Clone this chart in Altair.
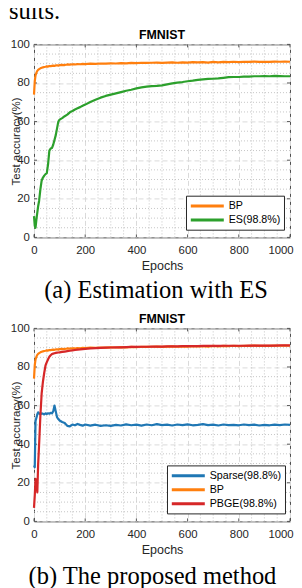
import altair as alt
import pandas as pd

# ---------------- data ----------------
epochs = [0, 3, 6, 10, 13, 16, 20, 25, 30, 35, 40, 45, 50, 55, 60, 65, 70, 75, 80, 85, 90, 95, 100,
          110, 120, 130, 140, 150, 160, 170, 180, 190, 200,
          220, 240, 260, 280, 300, 320, 340, 360, 380, 400, 420, 440, 460, 480, 500,
          520, 540, 560, 580, 600, 620, 640, 660, 680, 700, 720, 740, 760, 780, 800,
          820, 840, 860, 880, 900, 920, 940, 960, 980, 1000]

bp = [74.0, 81.0, 84.0, 85.5, 86.3, 86.8, 87.2, 87.6, 87.9, 88.1, 88.3, 88.4, 88.6, 88.5, 88.8, 88.7,
      88.9, 89.0, 88.9, 89.1, 89.2, 89.0, 89.3,
      89.4, 89.3, 89.6, 89.5, 89.7, 89.6, 89.8, 89.7, 89.9, 89.8,
      90.0, 89.9, 90.1, 90.0, 90.2, 90.1, 90.3, 90.2, 90.4, 90.3, 90.5, 90.4, 90.5, 90.6, 90.4,
      90.6, 90.7, 90.5, 90.7, 90.6, 90.8, 90.7, 90.8, 90.6, 90.9, 90.7, 90.9, 90.8, 91.0, 90.8,
      91.0, 90.9, 91.1, 90.9, 91.0, 90.9, 91.1, 91.0, 91.1, 91.0]

es = [11, 6, 5, 10, 13, 16, 19, 25, 29.5, 31, 32, 32.8, 33.3, 38, 45, 46, 46.3, 48, 50.5, 53, 56.5, 60, 61,
      61.8, 62.8, 63.6, 64.8, 65.5, 66.3, 66.9, 67.5, 68.2, 68.8,
      70.2, 71.3, 72.4, 73.3, 74.0, 74.6, 75.3, 76.0, 76.5, 77.2, 77.7, 78.1, 78.4, 78.5, 78.8,
      79.3, 79.8, 80.2, 80.5, 80.9, 81.2, 81.6, 81.9, 82.1, 82.2, 82.4, 82.7, 83.0, 83.1, 83.1,
      83.3, 83.3, 83.5, 83.5, 83.6, 83.5, 83.7, 83.6, 83.5, 83.5]

sparse = [29, 28, 52, 54, 55.5, 56.5, 56, 55.5, 56, 55.8, 55.5, 56, 55.7, 56, 55.8, 56.2, 56, 57, 60, 57,
          54, 53, 52.3,
          51.5, 51, 49.5, 49.2, 50.2, 49.8, 50.5, 50.0, 49.6, 50.2,
          49.6, 50.1, 49.5, 49.8, 49.5, 50.0, 49.7, 50.3, 49.8, 50.1, 49.6, 50.2, 49.8, 50.4, 49.9,
          50.1, 49.7, 50.2, 49.9, 50.3, 49.8, 50.0, 50.4, 49.9, 50.1, 49.7, 50.2, 49.9, 50.0, 49.8,
          50.2, 49.9, 50.1, 49.7, 50.0, 49.8, 50.1, 49.9, 50.2, 50.0]

pbge = [7, 13.5, 22, 20, 15, 29, 40, 55, 66.5, 72.5, 77, 80.8, 82.5, 84, 85.3, 86.1, 86.7, 86.9, 87.1,
        87.3, 87.4, 87.5, 87.6,
        87.8, 88.0, 88.2, 88.4, 88.6, 88.8, 89.0, 89.1, 89.3, 89.4,
        89.6, 89.8, 89.9, 90.0, 90.1, 90.2, 90.2, 90.3, 90.4, 90.4, 90.5, 90.5, 90.6, 90.6, 90.6,
        90.7, 90.7, 90.7, 90.8, 90.8, 90.8, 90.8, 90.9, 90.9, 90.9, 90.9, 91.0, 91.0, 91.0, 91.0,
        91.0, 91.1, 91.1, 91.1, 91.1, 91.1, 91.1, 91.2, 91.2, 91.2]

x_major = [0, 200, 400, 600, 800, 1000]
x_minor = [50, 100, 150, 250, 300, 350, 450, 500, 550, 650, 700, 750, 850, 900, 950]
y_major = [0, 20, 40, 60, 80, 100]
y_minor = [5, 10, 15, 25, 30, 35, 45, 50, 55, 65, 70, 75, 85, 90, 95]

header_text = ["sults."]
captions = ["(a) Estimation with ES", "(b) The proposed method"]
panel_title = ["FMNIST"]

names1 = ["BP", "ES(98.8%)"]
colors1 = ["#FF7F0E", "#2CA02C"]
names2 = ["Sparse(98.8%)", "BP", "PBGE(98.8%)"]
colors2 = ["#1F77B4", "#FF7F0E", "#D62728"]

# ---------------- styling ----------------
W, H = 256, 193
SANS = "Liberation Sans"
SERIF = "Liberation Serif"
TXT = "#262626"


def x_enc():
    return alt.X("epoch:Q", title="Epochs",
                 scale=alt.Scale(domain=[0, 1000], nice=False, zero=False),
                 axis=alt.Axis(values=x_major, format="d", grid=True, gridDash=[5, 3],
                               gridColor="#dadada", gridWidth=1, domain=False, ticks=False,
                               labelFlush=True, labelFlushOffset=3.2,
                               labelFont=SANS, labelFontSize=11.4, labelColor=TXT, labelPadding=7.5,
                               titleFont=SANS, titleFontSize=12.5, titleFontWeight="normal",
                               titleColor=TXT, titlePadding=3))


def y_enc():
    return alt.Y("acc:Q", title="Test accuracy(%)",
                 scale=alt.Scale(domain=[0, 100], nice=False),
                 axis=alt.Axis(values=y_major, format="d", grid=True, gridDash=[5, 3],
                               gridColor="#dadada", gridWidth=1, domain=False, ticks=False,
                               labelFont=SANS, labelFontSize=11.4, labelColor=TXT, labelPadding=4.7,
                               titleFont=SANS, titleFontSize=11.5, titleFontWeight="normal",
                               titleColor=TXT, titleAngle=270, titleX=-15, titleY=H / 2,
                               titleAlign="center", titleBaseline="alphabetic"))


def panel(series, names, colors, leg_x, leg_y, caption, cap_x, cap_y, header=None):
    color = alt.Color("series:N", scale=alt.Scale(domain=names, range=colors),
                      legend=alt.Legend(orient="none", legendX=leg_x, legendY=leg_y, title=None,
                                        symbolType="M-3,0H3", symbolSize=121, symbolStrokeWidth=3,
                                        symbolOffset=11, labelOffset=14.4,
                                        labelFont=SANS, labelFontSize=10.7, labelColor="black",
                                        strokeColor="#262626", fillColor="white",
                                        padding=3.3, rowPadding=1, cornerRadius=0))
    layers = []
    layers.append(alt.Chart(pd.DataFrame({"epoch": x_minor})).mark_rule(
        color="#b8b8b8", strokeDash=[1, 2], strokeWidth=0.8).encode(x=x_enc()))
    layers.append(alt.Chart(pd.DataFrame({"acc": y_minor})).mark_rule(
        color="#b8b8b8", strokeDash=[1, 2], strokeWidth=0.8).encode(y=y_enc()))
    tx = pd.DataFrame({"epoch": x_major})
    ty = pd.DataFrame({"acc": y_major})
    tick_style = dict(color="#555555", strokeWidth=1)
    layers.append(alt.Chart(tx).mark_rule(**tick_style).encode(
        x=x_enc(), y=alt.value(H), y2=alt.value(H - 3)))
    layers.append(alt.Chart(tx).mark_rule(**tick_style).encode(
        x=x_enc(), y=alt.value(0), y2=alt.value(3)))
    layers.append(alt.Chart(ty).mark_rule(**tick_style).encode(
        y=y_enc(), x=alt.value(0), x2=alt.value(3)))
    layers.append(alt.Chart(ty).mark_rule(**tick_style).encode(
        y=y_enc(), x=alt.value(W), x2=alt.value(W - 3)))
    for name, vals in series:
        df = pd.DataFrame({"epoch": epochs, "acc": vals, "series": name})
        layers.append(alt.Chart(df).mark_line(strokeWidth=2.2, strokeJoin="round").encode(
            x=x_enc(), y=y_enc(), color=color))
    layers.append(alt.Chart(pd.DataFrame({"t": panel_title})).mark_text(
        font=SANS, fontSize=12.4, fontWeight="bold", align="center", baseline="alphabetic",
        color="black").encode(text="t:N", x=alt.value(W / 2), y=alt.value(-5.5)))
    layers.append(alt.Chart(pd.DataFrame({"t": [caption]})).mark_text(
        font=SERIF, fontSize=24.5, align="center", baseline="alphabetic", color="black").encode(
        text="t:N", x=alt.value(cap_x), y=alt.value(cap_y)))
    if header is not None:
        layers.append(alt.Chart(pd.DataFrame({"t": header})).mark_text(
            font=SERIF, fontSize=24.5, align="left", baseline="alphabetic", color="black").encode(
            text="t:N", x=alt.value(-25), y=alt.value(-25)))
    return alt.layer(*layers).properties(
        width=W, height=H,
        view=alt.ViewBackground(stroke="#4d4d4d", strokeWidth=1))


p1 = panel([("BP", bp), ("ES(98.8%)", es)], names1, colors1, 152, 151.3, captions[0], 122, H + 60.5,
           header=header_text)
p2 = panel([("Sparse(98.8%)", sparse), ("BP", bp), ("PBGE(98.8%)", pbge)], names2, colors2,
           133, 137, captions[1], 118.5, H + 62.5)

chart = alt.vconcat(p1, p2, spacing=9).resolve_scale(color="independent").resolve_legend(
    color="independent").properties(
    padding={"left": 0, "right": 0, "top": -9.6, "bottom": 0}).configure_view(
    stroke="transparent").configure(background="white")

chart.save("out.html", embed_options={"renderer": "svg", "actions": False})
